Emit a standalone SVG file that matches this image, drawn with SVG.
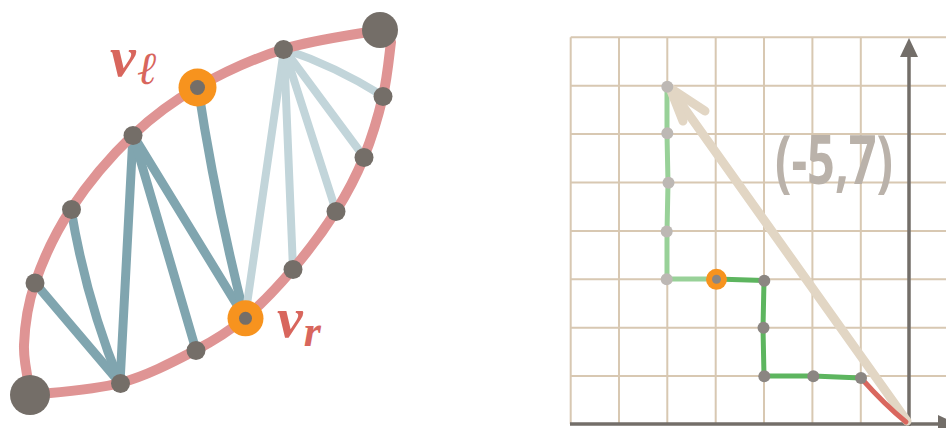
<svg xmlns="http://www.w3.org/2000/svg" width="946" height="428" viewBox="0 0 946 428">
<style>
.arc{fill:none;stroke:#df9494;stroke-width:10;stroke-linecap:round}
.ed{fill:none;stroke:#80a5af;stroke-width:9;stroke-linecap:round}
.el{fill:none;stroke:#c2d5da;stroke-width:8;stroke-linecap:round}
.nd{fill:#746e68}
.ring{fill:#f7931e}
.lab{font-family:"Liberation Serif","DejaVu Serif",serif;font-style:italic;font-weight:bold;fill:#d8665d}
.grid{stroke:#d8c8b2;stroke-width:2;fill:none}
.axis{stroke:#736e69;stroke-width:3.5;fill:none}
.gd{fill:#8b8682}
.gf{fill:#bdb8b4}
</style>
<rect width="946" height="428" fill="#ffffff"/>
<!-- LEFT FIGURE -->
<g id="connectors">
<path class="ed" d="M35,283 L120,383"/>
<path class="ed" d="M71,209 Q86,300 120,383"/>
<path class="ed" d="M133,135 L120,383"/>
<path class="ed" d="M133,135 L196,350"/>
<path class="ed" d="M133,135 L245,318"/>
<path class="ed" d="M198,87 Q215,200 245,318"/>
<path class="el" d="M245,318 L284,49"/>
<path class="el" d="M293,269 L284,49"/>
<path class="el" d="M336,211 L284,49"/>
<path class="el" d="M364,157 L284,49"/>
<path class="el" d="M383,96 Q335,66 284,49"/>
</g>
<g id="lens">
<path class="arc" d="M31,395 C29.8,386.7 23.3,363.7 24,345 C24.7,326.3 27.2,305.7 35,283 C42.8,260.3 54.7,233.7 71,209 C87.3,184.3 111.8,155.3 133,135 C154.2,114.7 172.8,101.3 198,87 C223.2,72.7 253.7,58.5 284,49 C314.3,39.5 364,33.2 380,30"/>
<path class="arc" d="M30,395 C45,393 92.3,390.5 120,383 C147.7,375.5 175.2,360.8 196,350 C216.8,339.2 228.8,331.5 245,318 C261.2,304.5 277.8,286.8 293,269 C308.2,251.2 324.2,229.7 336,211 C347.8,192.3 356.2,176.2 364,157 C371.8,137.8 378.5,115.2 383,96 C387.5,76.8 389.7,51 391,42"/>
</g>
<g id="nodes-left">
<circle class="nd" cx="30" cy="395" r="20"/>
<circle class="nd" cx="380" cy="30" r="18"/>
<circle class="nd" cx="35" cy="283" r="9.5"/>
<circle class="nd" cx="71.5" cy="209.5" r="9.5"/>
<circle class="nd" cx="133" cy="135.5" r="9.5"/>
<circle class="nd" cx="283.5" cy="49.5" r="9.5"/>
<circle class="nd" cx="383" cy="96.5" r="9.5"/>
<circle class="nd" cx="364" cy="157.5" r="9.5"/>
<circle class="nd" cx="336" cy="211.5" r="9.5"/>
<circle class="nd" cx="293" cy="269.5" r="9.5"/>
<circle class="nd" cx="196" cy="350.5" r="9.5"/>
<circle class="nd" cx="120.5" cy="383.5" r="9.5"/>
<g id="vl"><circle class="ring" cx="197.5" cy="87.5" r="19"/><circle class="nd" cx="197.5" cy="87.5" r="7.5"/></g>
<g id="vr"><circle class="ring" cx="245.5" cy="318.3" r="18"/><circle class="nd" cx="245.5" cy="318.3" r="6.5"/></g>
</g>
<g id="labels-left">
<text class="lab" x="110" y="76" font-size="58">v<tspan font-size="46" dx="2" dy="8">ℓ</tspan></text>
<text class="lab" x="277" y="337" font-size="58">v<tspan font-size="44" dx="1" dy="9">r</tspan></text>
</g>
<!-- RIGHT FIGURE -->
<g id="grid">
<path class="grid" d="M570.7,37.3 V424 M619,37.3 V424 M667.3,37.3 V424 M715.7,37.3 V424 M764,37.3 V424 M812.4,37.3 V424 M860.8,37.3 V424"/>
<path class="grid" d="M570.7,37.3 H946 M570.7,85.7 H946 M570.7,134.1 H946 M570.7,182.5 H946 M570.7,230.9 H946 M570.7,279.3 H946 M570.7,327.7 H946 M570.7,376.1 H946"/>
</g>
<g id="axes">
<path class="axis" d="M909,426 V55"/>
<path d="M909,38 L900,57 L918,57 Z" fill="#736e69"/>
<path class="axis" d="M570,424 H940"/>
<path d="M957,424 L938,415 L938,433 Z" fill="#736e69"/>
</g>
<g id="path-right">
<path d="M667,87 L667,134 L668,183 L667,232 L667,279 L716,279" fill="none" stroke="#98d198" stroke-width="5" stroke-linejoin="round" stroke-linecap="round"/>
<path d="M716,279 L764,280.5 L763,328 L764,376 L813,376 L861,378" fill="none" stroke="#5db55f" stroke-width="5" stroke-linejoin="round" stroke-linecap="round"/>
</g>
<g id="vector">
<path d="M907,421 L670,88" fill="none" stroke="#e2d6c4" stroke-width="9" stroke-linecap="round"/>
<path d="M705,111 L670,88 L683,121" fill="none" stroke="#e2d6c4" stroke-width="9" stroke-linecap="round" stroke-linejoin="round"/>
<path d="M861,378 Q885,405 906,422" fill="none" stroke="#d9675e" stroke-width="5" stroke-linecap="round"/>
</g>
<g id="nodes-right">
<circle class="gf" cx="667.3" cy="86.7" r="6"/>
<circle class="gf" cx="667.3" cy="133.3" r="6"/>
<circle class="gf" cx="668.5" cy="182.7" r="6"/>
<circle class="gf" cx="666.7" cy="231.5" r="6"/>
<circle class="gf" cx="666.7" cy="279.3" r="6"/>
<g id="orange-r"><circle class="ring" cx="716.5" cy="279.3" r="10.5"/><circle class="gd" cx="716.5" cy="279.3" r="4.5"/></g>
<circle class="gd" cx="764.3" cy="280.7" r="6"/>
<circle class="gd" cx="763.5" cy="327.7" r="6"/>
<circle class="gd" cx="764.3" cy="376.3" r="6"/>
<circle class="gd" cx="813.3" cy="376.3" r="6"/>
<circle class="gd" cx="861" cy="378" r="6"/>
</g>
<g id="vector-label">
<text x="775" y="184" font-family="'Open Sans','DejaVu Sans',sans-serif" font-weight="bold" font-size="68" fill="#bab2aa" textLength="118" lengthAdjust="spacingAndGlyphs">(-5,7)</text>
</g>
</svg>
